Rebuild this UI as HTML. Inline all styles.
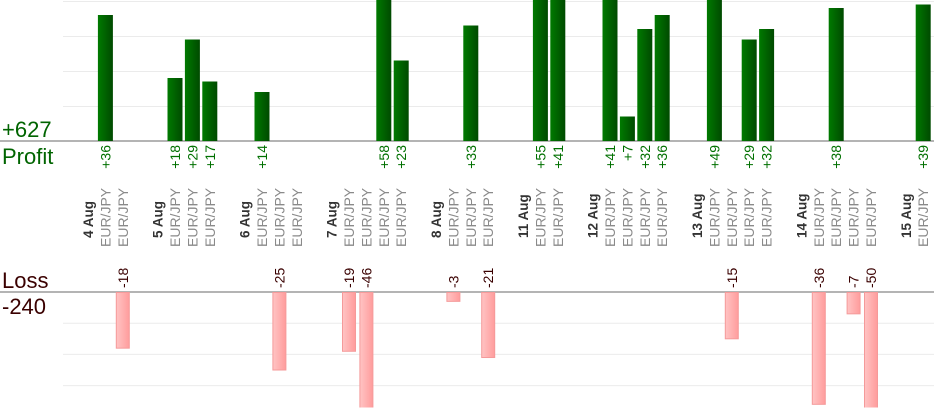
<!DOCTYPE html>
<html><head><meta charset="utf-8">
<style>
html,body{margin:0;padding:0;background:#fff;width:934px;height:420px;overflow:hidden;}
svg{display:block;font-family:"Liberation Sans",Arial,sans-serif;}
</style></head>
<body>
<svg id="chart" width="934" height="420" viewBox="0 0 934 420" xmlns="http://www.w3.org/2000/svg">
<defs>
<linearGradient id="gGreen" x1="0" x2="1" y1="0" y2="0">
<stop offset="0" stop-color="#007a00"/><stop offset="1" stop-color="#004a00"/>
</linearGradient>
<linearGradient id="gPink" x1="0" x2="1" y1="0" y2="0">
<stop offset="0" stop-color="#ffc4c4"/><stop offset="1" stop-color="#ff9c9c"/>
</linearGradient>
<clipPath id="clipP"><rect x="0" y="0" width="934" height="141"/></clipPath>
<clipPath id="clipL"><rect x="0" y="292" width="934" height="115.5"/></clipPath>
</defs>
<g id="grid"></g>
<line x1="0" x2="934" y1="141" y2="141" stroke="#888" stroke-width="1.2"/>
<line x1="0" x2="934" y1="292" y2="292" stroke="#888" stroke-width="1.2"/>
<text x="2" y="137" font-size="22" fill="#006400">+627</text>
<text x="2" y="164" font-size="22" fill="#006400">Profit</text>
<text x="2" y="288" font-size="22" fill="#3a0000">Loss</text>
<text x="2" y="314" font-size="22" fill="#3a0000">-240</text>
<g id="bars"></g>
<g id="labels"></g>
</svg>
<script>
const dayLabels = ["4 Aug","5 Aug","6 Aug","7 Aug","8 Aug","11 Aug","12 Aug","13 Aug","14 Aug","15 Aug"];
const tradeCounts = [2,3,3,4,3,2,4,4,4,1];
const tradeValues = [36,-18, 18,29,17, 14,-25,0, -19,-46,58,23, -3,33,-21, 55,41, 41,7,32,36, 49,-15,29,32, -36,38,-7,-50, 39];
const pairName = "EUR/JPY";
const profitGrid = [10,20,30,40];
const lossGrid = [10,20,30];

const NS = "http://www.w3.org/2000/svg";
const slotW = 17.4, x0 = 79.3;
const pBase = 141, pScale = 3.5, lBase = 292, lScale = 3.12;
function xSlot(i){ return x0 + slotW*i + slotW/2; }
function yProfit(v){ return pBase - v*pScale; }
function yLoss(v){ return lBase + v*lScale; }
function mk(tag, attrs, parent){ const e=document.createElementNS(NS,tag); for(const k in attrs) e.setAttribute(k,attrs[k]); parent.appendChild(e); return e; }

const grid = document.getElementById('grid');
profitGrid.forEach(v=>{
  const l = mk('line',{x1:63,x2:934,y1:yProfit(v)+0.5,y2:yProfit(v)+0.5,stroke:'#ebebeb','stroke-width':1},grid);
  
  
});
lossGrid.forEach(v=>{
  const l = mk('line',{x1:63,x2:934,y1:yLoss(v),y2:yLoss(v),stroke:'#ebebeb','stroke-width':1},grid);
  
  
});

const bars = document.getElementById('bars');
const labels = document.getElementById('labels');
let slot = 0, t = 0;
dayLabels.forEach((d,di)=>{
  const dx = xSlot(slot);
  const dt = mk('text',{x:0,y:0,transform:`translate(${dx+5},238) rotate(-90)`,'font-size':13.5,'font-weight':'bold',fill:'#333'},labels);
  dt.textContent = d;
  
  
  slot++;
  for(let k=0;k<tradeCounts[di];k++){
    const v = tradeValues[t++];
    const cx = xSlot(slot);
    const pl = mk('text',{x:0,y:0,transform:`translate(${cx+5},247) rotate(-90)`,'font-size':14,fill:'#8a8a8a'},labels);
    pl.textContent = pairName;
    
    
    if(v>0){
      const y = yProfit(v);
      const r = mk('rect',{x:cx-7.5,y:y,width:15,height:pBase-y,fill:'url(#gGreen)','clip-path':'url(#clipP)'},bars);
      
      
      const vl = mk('text',{x:0,y:0,transform:`translate(${cx+5},145) rotate(-90)`,'font-size':14,fill:'#007000','text-anchor':'end'},labels);
      vl.textContent = '+' + v;
      
      
    } else if(v<0){
      const y = yLoss(-v);
      const r = mk('rect',{x:cx-6.5,y:lBase+0.5,width:13,height:y-lBase-0.5,fill:'url(#gPink)',stroke:'#f59a9a','stroke-width':1,'clip-path':'url(#clipL)'},bars);
      
      
      const vl = mk('text',{x:0,y:0,transform:`translate(${cx+5},288) rotate(-90)`,'font-size':14,fill:'#3a0000'},labels);
      vl.textContent = String(v);
      
      
    }
    slot++;
  }
  slot++;
});
</script>
</body></html>
